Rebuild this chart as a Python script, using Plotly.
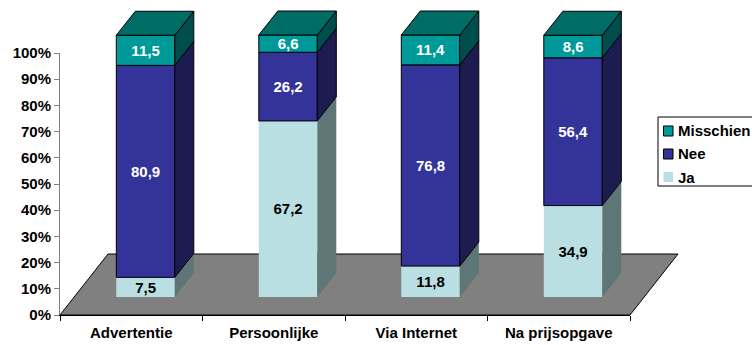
import plotly.graph_objects as go

categories = ["Advertentie", "Persoonlijke", "Via Internet", "Na prijsopgave"]
ja = [7.5, 67.2, 11.8, 34.9]
nee = [80.9, 26.2, 76.8, 56.4]
misschien = [11.5, 6.6, 11.4, 8.6]
series_names = ["Ja", "Nee", "Misschien"]
y_ticks = list(range(0, 101, 10))

W, H = 752, 345
FONT = "Liberation Sans"
AX_L, AX_R, AX_T, AX_B = 60, 630, 53, 315
PX_X = (AX_R - AX_L) / len(categories)
PX_Y = (AX_B - AX_T) / 100.0


def px(x):
    return x / W


def py(y):
    return 1 - y / H


def ux(p):
    return p / PX_X


def uy(p):
    return p / PX_Y


BAR_W = ux(58.5)
BAR_DX = ux(14.3)
BAR_DY = uy(18)
DEPTH_X, DEPTH_Y = ux(19), uy(24)
FLOOR_X, FLOOR_Y = ux(48), uy(61)

colors = {
    "Ja": ("#B9DFE3", "#5F7676", None),
    "Nee": ("#333399", "#1C1C50", "black"),
    "Misschien": ("#009999", "#004D4D", "black"),
}
TOP_COLOR = "#006C66"

fig = go.Figure()


def poly(xs, ys, fill, line=None):
    fig.add_trace(go.Scatter(
        x=xs + xs[:1], y=ys + ys[:1], mode="lines", fill="toself", fillcolor=fill,
        line=dict(color=line or fill, width=1 if line else 0),
        xaxis="x", yaxis="y", hoverinfo="skip", showlegend=False))


n = len(categories)
data = {"Ja": ja, "Nee": nee, "Misschien": misschien}
centers = [i + 0.5 + BAR_DX for i in range(n)]

# front faces
base = [BAR_DY] * n
for name in series_names:
    vals = data[name]
    front, _, edge = colors[name]
    fig.add_trace(go.Bar(
        x=centers, y=vals, base=base, width=BAR_W, name=name,
        xaxis="x", yaxis="y",
        marker=dict(color=front, line=dict(color=edge or front, width=1 if edge else 0)),
        text=[f"{v:.1f}".replace(".", ",") for v in vals],
        textposition="inside", insidetextanchor="middle", textangle=0,
        constraintext="none",
        insidetextfont=dict(family=FONT, size=15, weight="bold",
                            color="black" if name == "Ja" else "white"),
        showlegend=False))
    base = [b + v for b, v in zip(base, vals)]

# side and top faces, from the same values
for i in range(n):
    right = centers[i] + BAR_W / 2
    left = centers[i] - BAR_W / 2
    base_i = BAR_DY
    for name in series_names:
        top = base_i + data[name][i]
        poly([right, right + DEPTH_X, right + DEPTH_X, right],
             [base_i, base_i + DEPTH_Y, top + DEPTH_Y, top],
             colors[name][1], colors[name][2])
        base_i = top
    poly([left, right, right + DEPTH_X, left + DEPTH_X],
         [base_i, base_i, base_i + DEPTH_Y, base_i + DEPTH_Y], TOP_COLOR, "black")

# the real axes, on top of the depth drawing
fig.add_trace(go.Scatter(x=[None], y=[None], xaxis="x2", yaxis="y2", showlegend=False,
                         hoverinfo="skip"))

shapes = [dict(type="path", xref="x", yref="y", layer="below",
               path=f"M 0 0 L {n} 0 L {n + FLOOR_X} {FLOOR_Y} L {FLOOR_X} {FLOOR_Y} Z",
               fillcolor="#808080", line=dict(color="black", width=1))]

# hand-built legend, to keep the small swatches of the original
LEG_L, LEG_T, LEG_B = 658, 117, 186
shapes.append(dict(type="rect", xref="paper", yref="paper", x0=px(LEG_L), x1=px(770),
                   y0=py(LEG_B), y1=py(LEG_T), line=dict(color="black", width=1),
                   fillcolor="white", layer="above"))
annotations = []
for name, cy in zip(series_names[::-1], [131, 154, 177]):
    front, _, edge = colors[name]
    shapes.append(dict(type="rect", xref="paper", yref="paper",
                       x0=px(663.5), x1=px(673), y0=py(cy + 5), y1=py(cy - 5),
                       fillcolor=front, line=dict(color=edge or front, width=1 if edge else 0),
                       layer="above"))
    annotations.append(dict(text=name, xref="paper", yref="paper", x=px(677), y=py(cy),
                            xanchor="left", yanchor="middle", showarrow=False, borderpad=0,
                            font=dict(family=FONT, size=15, weight="bold", color="black")))

fig.update_layout(
    width=W, height=H, autosize=False, margin=dict(l=0, r=0, t=0, b=0),
    paper_bgcolor="white", plot_bgcolor="rgba(0,0,0,0)", barmode="overlay",
    showlegend=False, shapes=shapes, annotations=annotations,
    font=dict(family=FONT, size=15, color="black"),
    xaxis=dict(domain=[px(20), px(740)], range=[ux(20 - AX_L), ux(740 - AX_L)],
               visible=False, anchor="y", automargin=False),
    yaxis=dict(domain=[py(335), py(10)], range=[uy(AX_B - 335), uy(AX_B - 10)],
               visible=False, anchor="x", automargin=False),
    xaxis2=dict(domain=[px(AX_L), px(AX_R)], range=[0, n], anchor="y2", automargin=False,
                tickmode="array", tickvals=[i + 0.5 for i in range(n)], ticktext=categories,
                ticks="", showgrid=False, zeroline=False, ticklabelstandoff=4,
                showline=True, linecolor="black", linewidth=1,
                minor=dict(tickmode="array", tickvals=list(range(n + 1)), ticks="outside",
                           ticklen=5, tickcolor="black", tickwidth=1, showgrid=False),
                tickfont=dict(family=FONT, size=15, weight="bold", color="black")),
    yaxis2=dict(domain=[py(AX_B), py(AX_T)], range=[0, 100], anchor="x2", automargin=False,
                tickmode="array", tickvals=y_ticks, ticktext=[f"{v}%" for v in y_ticks],
                ticks="outside", ticklen=5, tickcolor="#808080", tickwidth=1,
                showgrid=False, zeroline=False,
                showline=True, linecolor="#808080", linewidth=1,
                tickfont=dict(family=FONT, size=15, weight="bold", color="black")),
)

fig.write_html("out.html", config={"displayModeBar": False}, post_script=(
    "document.body.style.margin='0';"
    "document.documentElement.style.overflow='hidden';"
    "document.body.style.overflow='hidden';"))
